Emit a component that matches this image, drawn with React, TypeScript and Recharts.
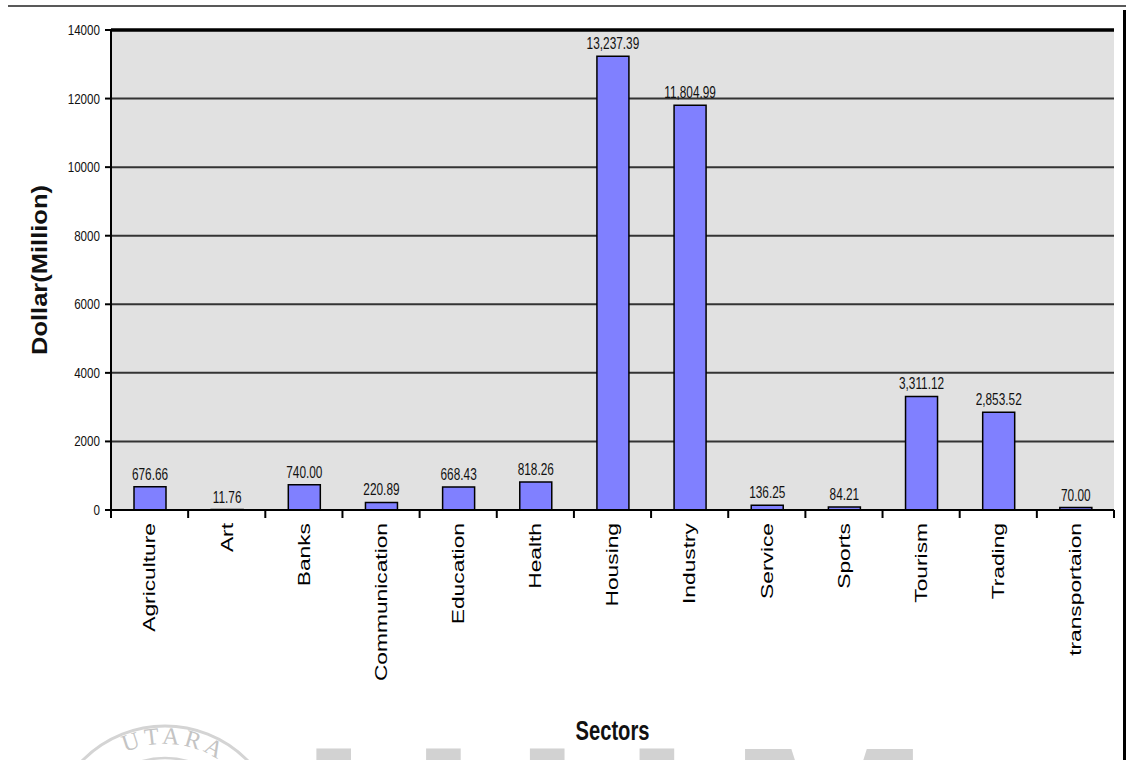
import React from 'react';
import { Bar, BarChart, CartesianGrid, LabelList, ReferenceLine, XAxis, YAxis } from 'recharts';

const sectors = [
  'Agriculture',
  'Art',
  'Banks',
  'Communication',
  'Education',
  'Health',
  'Housing',
  'Industry',
  'Service',
  'Sports',
  'Tourism',
  'Trading',
  'transportaion',
];

const investment = [676.66, 11.76, 740.0, 220.89, 668.43, 818.26, 13237.39, 11804.99, 136.25, 84.21, 3311.12, 2853.52, 70.0];

const yTicks = [0, 2000, 4000, 6000, 8000, 10000, 12000, 14000];

const data = sectors.map((sector, i) => ({ sector, value: investment[i] }));

const W = 1126;
const H = 760;
const MARGIN = { top: 30, right: 12, bottom: 0, left: 0 };
const Y_AXIS_W = 111;
const X_AXIS_H = 250;
const BAND = (W - MARGIN.right - MARGIN.left - Y_AXIS_W) / sectors.length;
const FONT = "'Liberation Sans', Arial, sans-serif";

const fmt = (v: number) =>
  v.toLocaleString('en-US', { minimumFractionDigits: 2, maximumFractionDigits: 2 });

function YTick({ x, y, payload }: any) {
  return (
    <text
      transform={`translate(${x},${y}) scale(0.83,1)`}
      textAnchor="end"
      dy="0.36em"
      fontSize={14}
      fontFamily={FONT}
      fill="#111"
    >
      {payload.value}
    </text>
  );
}

function XTick({ x, y, payload, index }: any) {
  const left = x - BAND / 2;
  const last = index === sectors.length - 1;
  return (
    <g>
      <line x1={left} x2={left} y1={y} y2={y + 8} stroke="#000" strokeWidth={2} />
      {last ? <line x1={x + BAND / 2} x2={x + BAND / 2} y1={y} y2={y + 8} stroke="#000" strokeWidth={2} /> : null}
      <text
        transform={`translate(${x},${y + 13}) rotate(-90) scale(1.38,1)`}
        textAnchor="end"
        dy="0.35em"
        fontSize={16.5}
        fontFamily={FONT}
        fill="#000"
      >
        {payload.value}
      </text>
    </g>
  );
}

function ValueLabel({ x, y, width, value }: any) {
  return (
    <text
      transform={`translate(${x + width / 2},${y - 7}) scale(0.74,1)`}
      textAnchor="middle"
      fontSize={16}
      fontFamily={FONT}
      fill="#111"
    >
      {fmt(value)}
    </text>
  );
}

function YTitle({ viewBox }: any) {
  const cy = viewBox.y + viewBox.height / 2;
  return (
    <text
      transform={`translate(47,${cy}) rotate(-90) scale(1.16,1)`}
      textAnchor="middle"
      fontSize={22}
      fontWeight="bold"
      fontFamily={FONT}
      fill="#111"
    >
      Dollar(Million)
    </text>
  );
}

function XTitle({ viewBox }: any) {
  const cx = viewBox.x + viewBox.width / 2;
  return (
    <text
      transform={`translate(${cx},740) scale(0.72,1)`}
      textAnchor="middle"
      fontSize={28}
      fontWeight="bold"
      fontFamily={FONT}
      fill="#111"
    >
      Sectors
    </text>
  );
}

// frame lines and the faint university mark at the foot of the page
function Overlay() {
  const cx = 165;
  const cy = 842;
  const r = 98;
  return (
    <svg width={W} height={H} style={{ position: 'absolute', left: 0, top: 0, pointerEvents: 'none' }}>
      <line x1={8} x2={W} y1={6} y2={6} stroke="#222" strokeWidth={1.5} />
      <line x1={1124.5} x2={1124.5} y1={10} y2={H} stroke="#000" strokeWidth={3} />
      <defs>
        <path id="seal-arc" d={`M ${cx - r} ${cy} A ${r} ${r} 0 0 1 ${cx + r} ${cy}`} />
      </defs>
      <circle cx={cx} cy={cy} r={116} fill="none" stroke="#d4d4d4" strokeWidth={3} />
      <circle cx={cx} cy={cy} r={84} fill="none" stroke="#d4d4d4" strokeWidth={2.5} />
      <text fontSize={24} fontFamily="'Liberation Serif', serif" fill="#c4c4c4" letterSpacing={4}>
        <textPath href="#seal-arc" startOffset="53%" textAnchor="middle">
          UTARA
        </textPath>
      </text>
      <text
        x={302}
        y={914}
        fontSize={240}
        fontWeight="bold"
        fontFamily={FONT}
        fill="#d2d2d2"
        textLength={627}
        lengthAdjust="spacing"
      >
        UUM
      </text>
    </svg>
  );
}

export default function App() {
  return (
    <div style={{ position: 'fixed', left: 0, top: 0, width: W, height: H, background: '#fff' }}>
      <BarChart width={W} height={H} data={data} margin={MARGIN} barSize={32}>
        <CartesianGrid vertical={false} fill="#e1e1e1" stroke="#333" strokeWidth={2} />
        <XAxis
          dataKey="sector"
          height={X_AXIS_H}
          interval={0}
          tickLine={false}
          tickSize={0}
          tickMargin={0}
          tick={<XTick />}
          axisLine={{ stroke: '#000', strokeWidth: 2 }}
          label={<XTitle />}
        />
        <YAxis
          width={Y_AXIS_W}
          domain={[0, 14000]}
          ticks={yTicks}
          tickSize={6}
          tickMargin={5}
          tick={<YTick />}
          tickLine={{ stroke: '#000', strokeWidth: 2 }}
          axisLine={{ stroke: '#000', strokeWidth: 2 }}
          label={<YTitle />}
        />
        <YAxis
          yAxisId="frame"
          orientation="right"
          width={0}
          domain={[0, 14000]}
          tick={false}
          tickLine={false}
          axisLine={{ stroke: '#444', strokeWidth: 1.5 }}
        />
        <ReferenceLine y={14000} stroke="#000" strokeWidth={3.5} />
        <Bar dataKey="value" fill="#8080ff" stroke="#000" strokeWidth={1.5} isAnimationActive={false}>
          <LabelList dataKey="value" content={<ValueLabel />} />
        </Bar>
      </BarChart>
      <Overlay />
    </div>
  );
}
